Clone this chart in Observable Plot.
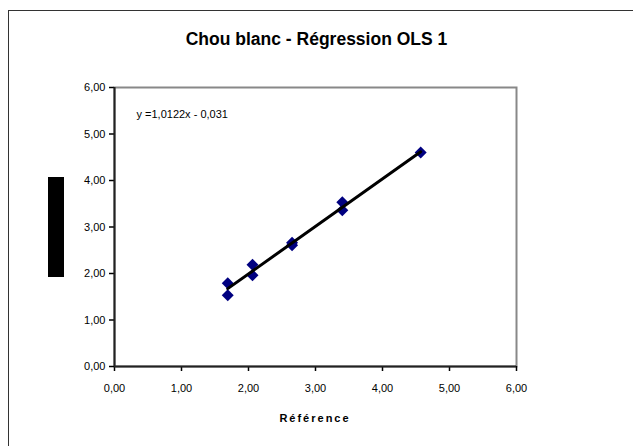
<!DOCTYPE html>
<html>
<head>
<meta charset="utf-8">
<script src="https://cdn.jsdelivr.net/npm/d3@7"></script>
<script src="https://cdn.jsdelivr.net/npm/@observablehq/plot@0.6"></script>
<style>
  html, body { margin: 0; padding: 0; background: #fff; }
  body { width: 633px; height: 446px; position: relative; overflow: hidden; font-family: "Liberation Sans", Arial, sans-serif; }
  #frame { position: absolute; left: 8px; top: 10px; width: 700px; height: 500px; border: 1.5px solid #333; box-sizing: border-box; }
  #title { position: absolute; left: 0; width: 633px; top: 29px; text-align: center; font-size: 17.5px; font-weight: bold; color: #000; }
  #ylab { position: absolute; left: 48px; top: 177px; width: 16px; height: 100px; background: #000; }
  #xlab { position: absolute; left: 0; width: 630px; top: 412px; text-align: center; font-size: 11px; font-weight: bold; letter-spacing: 2px; color: #000; }
  #chart { position: absolute; left: 0; top: 0; }
</style>
</head>
<body>
<div id="frame"></div>
<div id="title">Chou blanc - Régression OLS 1</div>
<div id="ylab"></div>
<div id="xlab">Référence</div>
<div id="chart"></div>
<script>
// Data
const refValues = [1.69, 1.69, 2.06, 2.06, 2.65, 2.65, 3.40, 3.40, 4.57];
const measValues = [1.79, 1.53, 2.19, 1.96, 2.66, 2.61, 3.53, 3.36, 4.60];
const tickValues = [0, 1, 2, 3, 4, 5, 6];
const equationText = "y =1,0122x - 0,031";

const points = refValues.map((x, i) => ({x, y: measValues[i]}));
const fmt = d => d3.format(".2f")(d).replace(".", ",");

const chart = Plot.plot({
  width: 633,
  height: 446,
  marginLeft: 114,
  marginRight: 117,
  marginTop: 87,
  marginBottom: 80,
  style: { fontFamily: "'Liberation Sans', Arial, sans-serif", fontSize: "11px", background: "transparent", color: "#000" },
  x: { domain: [0, 6], ticks: tickValues, tickFormat: fmt, label: null },
  y: { domain: [0, 6], ticks: tickValues, tickFormat: fmt, label: null },
  marks: [
    Plot.frame({ stroke: "#888", strokeWidth: 2 }),
    Plot.axisX({ ticks: tickValues, tickFormat: fmt, tickSize: 5, tickPadding: 13, label: null, fontSize: 11, stroke: "#000", strokeWidth: 1.5 }),
    Plot.axisY({ ticks: tickValues, tickFormat: fmt, tickSize: 5, tickPadding: 4, label: null, fontSize: 11, stroke: "#000", strokeWidth: 1.5 }),
    Plot.ruleX([0], { stroke: "#222", strokeWidth: 2 }),
    Plot.ruleY([0], { stroke: "#222", strokeWidth: 2 }),
    Plot.dot(points, { x: "x", y: "y", symbol: "diamond2", r: 5.4, fill: "#000080", stroke: "none" }),
    Plot.linearRegressionY(points, { x: "x", y: "y", ci: 0, stroke: "#000", strokeWidth: 3 }),
    Plot.text([equationText], { frameAnchor: "top-left", dx: 22, dy: 23, textAnchor: "start", lineAnchor: "top", fontSize: 11, fill: "#000" })
  ]
});
document.getElementById("chart").appendChild(chart);
</script>
</body>
</html>
